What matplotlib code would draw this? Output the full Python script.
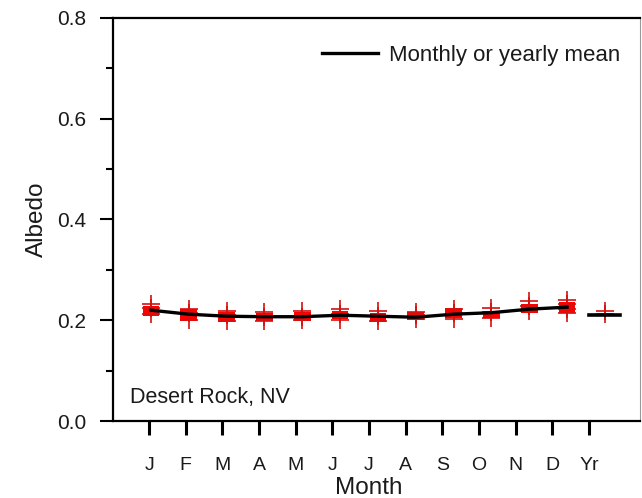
import numpy as np
import matplotlib
matplotlib.use("Agg")
import matplotlib.pyplot as plt
from matplotlib.patches import Rectangle

plt.rcParams['font.family'] = ['Liberation Sans', 'DejaVu Sans']

# monthly data, Desert Rock NV
months = ['J', 'F', 'M', 'A', 'M', 'J', 'J', 'A', 'S', 'O', 'N', 'D']
tick_labels = months + ['Yr']
monthly_mean = [0.220, 0.212, 0.208, 0.207, 0.207, 0.210, 0.208, 0.206, 0.212, 0.215, 0.222, 0.226]
yearly_mean = 0.210
box_lo = [0.208, 0.198, 0.197, 0.199, 0.198, 0.202, 0.197, 0.200, 0.204, 0.204, 0.214, 0.214]
box_hi = [0.228, 0.222, 0.217, 0.215, 0.216, 0.219, 0.215, 0.217, 0.224, 0.219, 0.232, 0.237]
# individual years (plus markers), per month then the yearly values
year_vals = [
    [0.233, 0.224, 0.213],
    [0.223, 0.214, 0.201],
    [0.218, 0.210, 0.199],
    [0.216, 0.206, 0.199],
    [0.218, 0.207, 0.200],
    [0.222, 0.212, 0.201],
    [0.218, 0.208, 0.199],
    [0.217, 0.210, 0.203],
    [0.223, 0.214, 0.203],
    [0.225, 0.216, 0.205],
    [0.238, 0.228, 0.218],
    [0.240, 0.232, 0.222, 0.214],
    [0.219, 0.213],
]

fig = plt.figure(figsize=(6.42, 4.98), dpi=100)
ax = fig.add_axes([0.176, 0.1546, 0.821, 0.8093])

x = np.arange(1, 13)
box_w = 0.44
for xi, lo, hi in zip(x, box_lo, box_hi):
    ax.add_patch(Rectangle((xi - box_w / 2, lo), box_w, hi - lo,
                           facecolor='#ff0000', edgecolor='none', zorder=2))

for i, vals in enumerate(year_vals):
    ax.plot([i + 1] * len(vals), vals, linestyle='none', marker='+',
            markersize=13, markeredgewidth=1.2, color='#d41010', zorder=3)

ax.plot(x, monthly_mean, color='black', lw=2.4, zorder=4,
        label='Monthly or yearly mean')
ax.plot([13 - 0.41, 13 + 0.41], [yearly_mean, yearly_mean], color='black',
        lw=2.6, zorder=4)

ax.set_xlim(0, 13.93)
ax.set_ylim(0, 0.8)
ax.set_xticks(0.954 + 0.9686 * np.arange(13))
ax.set_xticklabels(tick_labels)
ax.set_yticks(np.arange(0, 0.81, 0.2))
ax.set_yticks(np.arange(0.1, 0.8, 0.2), minor=True)
ax.set_yticklabels([f'{v:.1f}' for v in np.arange(0, 0.81, 0.2)])

text_col = '#1a1a1a'
ax.tick_params(axis='x', direction='out', length=10, width=2.2, pad=16,
               labelsize=14, top=False, labelcolor=text_col)
ax.tick_params(axis='y', which='major', direction='out', length=9.4, width=1.5,
               pad=10, labelsize=15, right=False, labelcolor=text_col)
ax.tick_params(axis='y', which='minor', direction='out', length=5, width=1.5,
               right=False)

for s in ['left', 'bottom', 'top']:
    ax.spines[s].set_linewidth(1.6)
ax.spines['right'].set_linewidth(0.8)
ax.spines['right'].set_color('#999999')

ax.set_ylabel('Albedo', fontsize=17.5, color=text_col)
ax.yaxis.set_label_coords(-0.124, 0.5)
ax.set_xlabel('Month', fontsize=17.5, color=text_col)
ax.xaxis.set_label_coords(0.486, -0.138)

ax.text(0.032, 0.045, 'Desert Rock, NV', transform=ax.transAxes,
        fontsize=15.5, va='baseline', ha='left', color=text_col)

leg = ax.legend(loc='center right', bbox_to_anchor=(0.962, 0.908), frameon=False,
                fontsize=16, handlelength=2.5, handletextpad=0.5,
                borderpad=0, borderaxespad=0)
for t in leg.get_texts():
    t.set_color(text_col)

fig.savefig('out.png', dpi=100)
